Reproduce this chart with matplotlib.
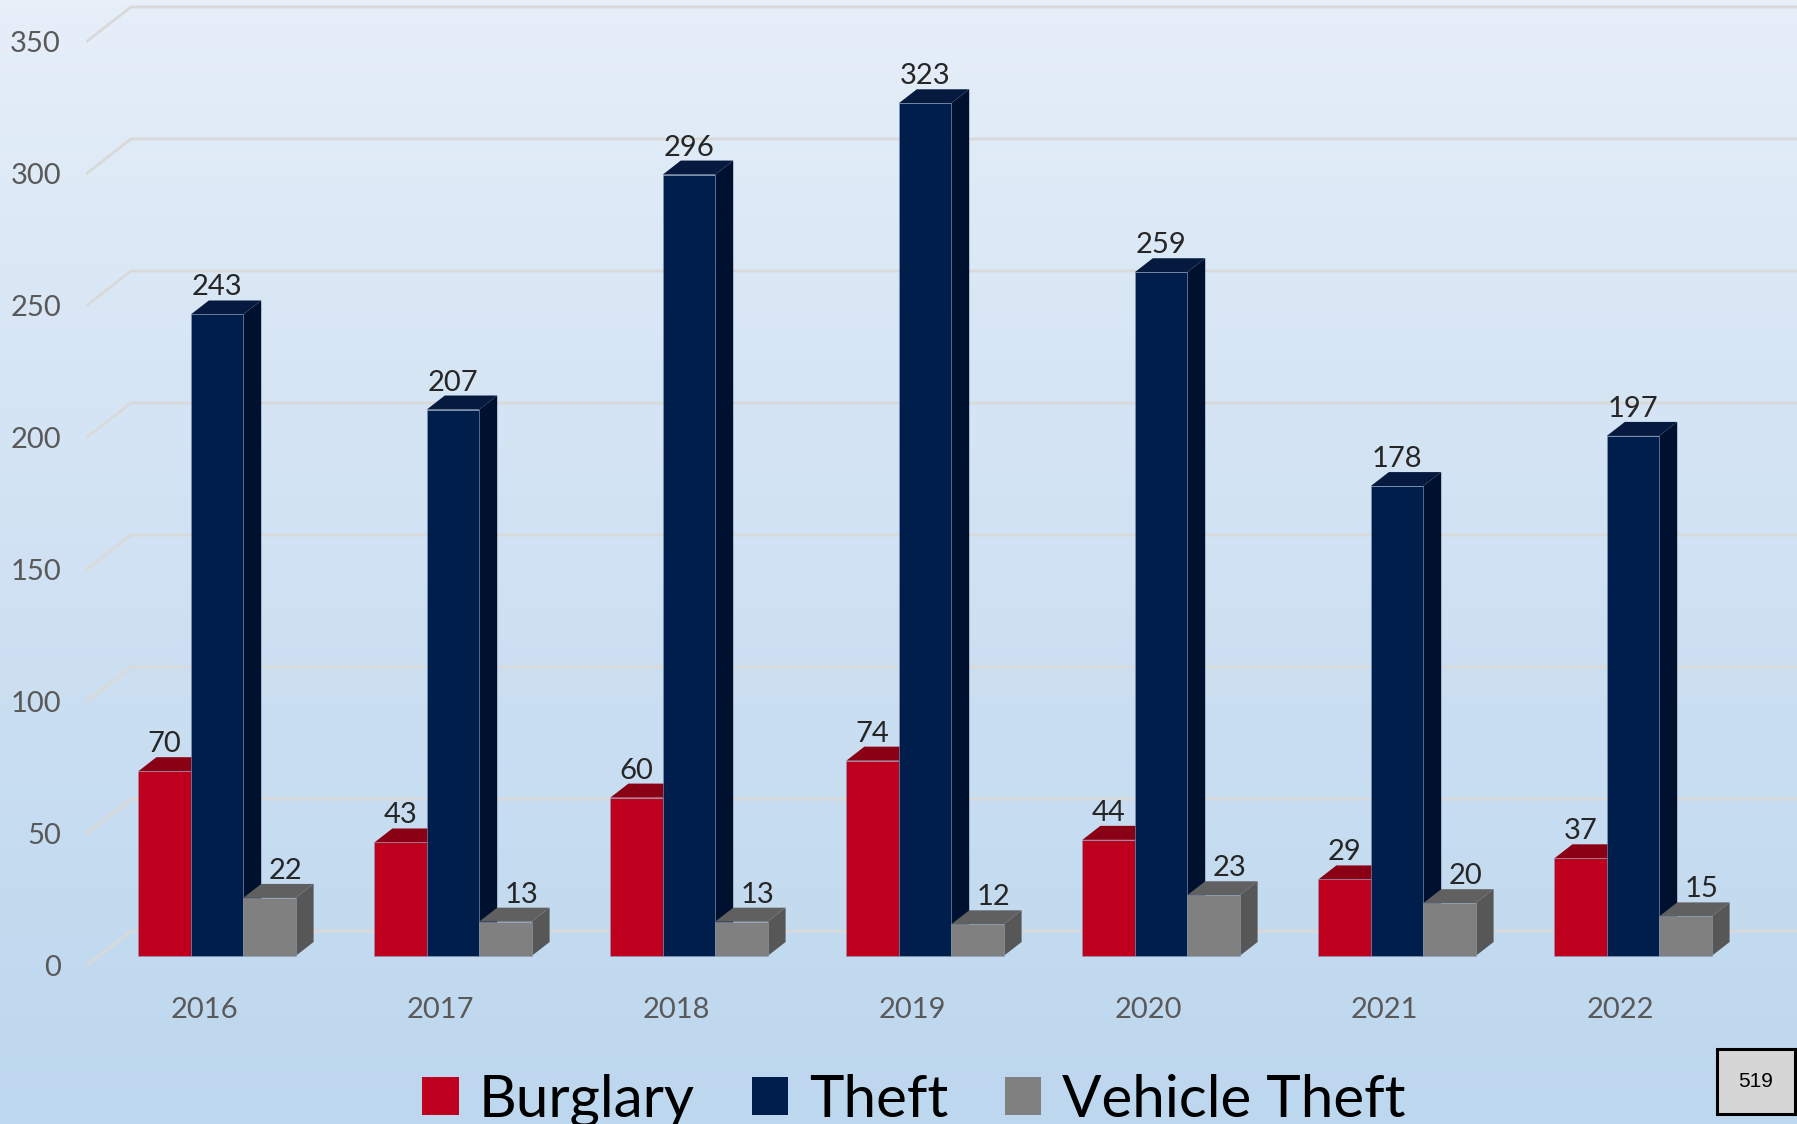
import numpy as np
import matplotlib
matplotlib.use('Agg')
import matplotlib.pyplot as plt
from matplotlib.patches import Polygon, Rectangle
from matplotlib.lines import Line2D

# ---------------- data ----------------
years = ['2016', '2017', '2018', '2019', '2020', '2021', '2022']
burglary = [70, 43, 60, 74, 44, 29, 37]
theft = [243, 207, 296, 323, 259, 178, 197]
vehicle_theft = [22, 13, 13, 12, 23, 20, 15]
series_names = ['Burglary', 'Theft', 'Vehicle Theft']
y_ticks = [0, 50, 100, 150, 200, 250, 300, 350]
page_number = '519'

# ---------------- style ----------------
W, H = 1797, 1124
front = ['#BE001E', '#001E4B', '#808080']
topc = ['#8A0014', '#06193F', '#606060']
side = ['#7A0012', '#00112F', '#575757']
grid_c = '#D9D9D9'
FONT = 'Lato'

fig = plt.figure(figsize=(W / 100, H / 100), dpi=100)

# gradient background
bg = fig.add_axes([0, 0, 1, 1])
top_rgb = np.array([231, 239, 249]) / 255
bot_rgb = np.array([189, 215, 238]) / 255
t = np.linspace(0, 1, 256)[:, None] ** 0.85
grad = top_rgb[None, :] * (1 - t) + bot_rgb[None, :] * t
bg.imshow(grad[:, None, :], aspect='auto', extent=[0, 1, 0, 1])
bg.set_axis_off()

# main axes: front-edge plane; 1 category = 236 px, 1 unit = 2.64 px
cat_px = 236.0
unit_px = 2.64
left_px = 86
base_px = 158  # from bottom
ax = fig.add_axes([left_px / W, base_px / H, (W - left_px) / W, (H - base_px) / H])
ax.set_xlim(-0.5, -0.5 + (W - left_px) / cat_px)
ax.set_ylim(0, (H - base_px) / unit_px)
ax.patch.set_alpha(0)
for s in ax.spines.values():
    s.set_visible(False)

def px(dx, dy):
    return dx / cat_px, dy / unit_px

# back wall gridlines with slanted floor segment
wx, wy = px(45, 35)
xmax = ax.get_xlim()[1]
for v in y_ticks:
    ax.add_line(Line2D([-0.5, -0.5 + wx, xmax], [v, v + wy, v + wy],
                       color=grid_c, lw=2.0, solid_capstyle='butt', zorder=1))

ax.set_yticks(y_ticks)
ax.set_yticklabels([str(v) for v in y_ticks])
ax.set_xticks(range(len(years)))
ax.set_xticklabels(years)
ax.tick_params(axis='both', length=0, labelsize=21, labelcolor='#595959')
ax.tick_params(axis='y', pad=18)
ax.tick_params(axis='x', pad=22)
for lab in ax.get_xticklabels() + ax.get_yticklabels():
    lab.set_fontfamily(FONT)

# bars
bw = 52.4 / cat_px
ox, oy = px(13, 10)      # bar plane offset from front edge
ddx, ddy = px(18, 14)    # bar depth
lab_gap = 5 / unit_px
label_shift = [0.0, 0.0, 16 / cat_px]
data = [burglary, theft, vehicle_theft]
for i in range(len(years)):
    for k in range(3):
        v = data[k][i]
        x0 = i + (k - 1.5) * bw + ox
        y0 = oy
        z = 3 + i * 3 + k
        ax.add_patch(Polygon([(x0 + bw, y0), (x0 + bw + ddx, y0 + ddy),
                              (x0 + bw + ddx, y0 + v + ddy), (x0 + bw, y0 + v)],
                             closed=True, fc=side[k], ec='none', zorder=z))
        ax.add_patch(Polygon([(x0, y0 + v), (x0 + bw, y0 + v),
                              (x0 + bw + ddx, y0 + v + ddy), (x0 + ddx, y0 + v + ddy)],
                             closed=True, fc=topc[k], ec='none', zorder=z))
        ax.add_patch(Rectangle((x0, y0), bw, v, fc=front[k], ec='#8a9cb8', lw=0.4, zorder=z))
        ax.text(x0 + bw / 2 + label_shift[k], y0 + v + ddy + lab_gap, str(v),
                ha='center', va='baseline', fontsize=21, color='#262626',
                fontfamily=FONT, zorder=50)

# legend
handles = [Rectangle((0, 0), 1, 1, fc=front[k], ec='none') for k in range(3)]
fig.legend(handles, series_names, loc='center', bbox_to_anchor=(0.5085, 0.021),
           ncol=3, frameon=False, prop={'family': FONT, 'size': 42},
           handlelength=0.62, handleheight=0.62, handletextpad=0.35,
           columnspacing=0.98, borderpad=0, borderaxespad=0)

# page number box
fig.add_artist(Rectangle((1717 / W, (H - 1114) / H), 78 / W, 65 / H,
                         transform=fig.transFigure, fc='#D6D6D6', ec='black', lw=2.2))
fig.text((1717 + 39) / W, (H - 1114 + 32.5) / H, page_number, ha='center', va='center',
         fontsize=15, fontfamily='Liberation Sans', color='black')

fig.savefig('out.png', dpi=100)
